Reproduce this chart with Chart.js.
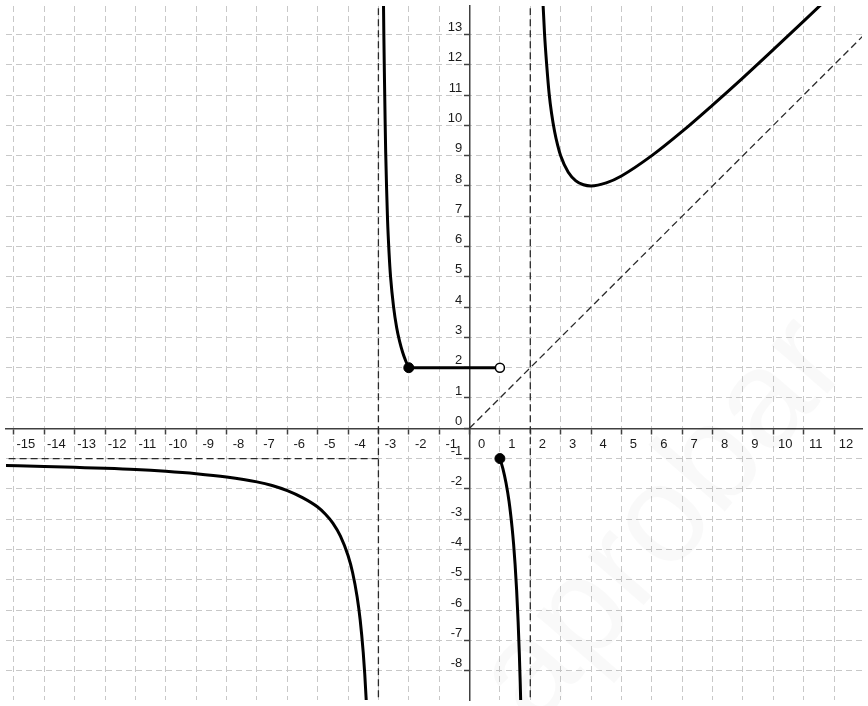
<!DOCTYPE html>
<html>
<head>
<meta charset="utf-8">
<script src="https://cdn.jsdelivr.net/npm/chart.js@4.4.1/dist/chart.umd.min.js"></script>
<style>
  html, body { margin: 0; padding: 0; background: #ffffff; }
  #wrap { width: 868px; height: 706px; position: relative; }
</style>
</head>
<body>
<div id="wrap"><canvas id="c"></canvas></div>
<script>
// ---- visible window of the plot ----
const xRange = [-15.26, 12.92];
const yRange = [-8.97, 13.94];

// ---- tick labels ----
const xTickValues = [-15,-14,-13,-12,-11,-10,-9,-8,-7,-6,-5,-4,-3,-2,-1,0,1,2,3,4,5,6,7,8,9,10,11,12];
const yTickValues = [-8,-7,-6,-5,-4,-3,-2,-1,0,1,2,3,4,5,6,7,8,9,10,11,12,13];

// ---- curve pieces ----
// branch for x < -3
const branch1X = [-15.3,-14,-13,-12,-11,-10,-9,-8,-7,-6.5,-6,-5.5,-5,-4.75,-4.5,-4.25,-4.0,-3.85,-3.7,-3.6,-3.5,-3.45,-3.4,-3.35];
const branch1Y = [-1.23,-1.26,-1.29,-1.32,-1.36,-1.42,-1.50,-1.61,-1.77,-1.89,-2.06,-2.29,-2.60,-2.83,-3.13,-3.56,-4.2,-4.76,-5.57,-6.33,-7.4,-8.11,-9.0,-10.14];
// branch for -3 < x <= -2
const branch2X = [-2.835,-2.82,-2.80,-2.78,-2.76,-2.73,-2.70,-2.65,-2.60,-2.50,-2.40,-2.30,-2.20,-2.10,-2.00];
const branch2Y = [14.2,12.9,11.5,10.2,9.1,7.9,6.9,5.8,5.0,4.0,3.33,2.86,2.5,2.22,2.0];
// horizontal piece y = 2 on [-2, 1)
const segmentX = [-2, 1];
const segmentY = [2, 2];
// branch for 1 <= x < 2
const branch3X = [1.0,1.1,1.2,1.3,1.4,1.45,1.5,1.55,1.6,1.64,1.67,1.70,1.72];
const branch3Y = [-1,-1.34,-1.8,-2.41,-3.27,-3.82,-4.5,-5.34,-6.4,-7.47,-8.45,-9.63,-10.57];
// branch for x > 2
const branch4X = [2.38,2.42,2.47,2.54,2.62,2.70,2.80,2.90,3.0,3.25,3.5,3.75,4.0,4.5,5,6,7,8,9,10,11,12,13];
const branch4Y = [14.9,14.0,13.0,12.0,11.05,10.4,9.8,9.35,9.0,8.45,8.17,8.04,8.0,8.1,8.33,9.0,9.8,10.67,11.57,12.5,13.44,14.4,15.4];

// ---- asymptotes / guide lines ----
const verticalAsymptotes = [-3, 2];
const horizontalAsymptoteY = -1;      // drawn for x < -3
const horizontalAsymptoteEndX = -3;
const diagonalX = [0, 14];
const diagonalY = [0, 14];

// ---- end points ----
const filledX = [-2, 1];
const filledY = [2, -1];
const openX = [1];
const openY = [2];

// ---------------------------------------------------------------
const zip = (xs, ys) => xs.map((x, i) => ({ x: x, y: ys[i] }));
const FONT = '"Liberation Sans", Arial, sans-serif';
const curveStyle = {
  showLine: true, pointRadius: 0, borderColor: '#000000', borderWidth: 3,
  cubicInterpolationMode: 'monotone', fill: false
};
const dashStyle = {
  showLine: true, pointRadius: 0, borderColor: '#2a2a2a', borderWidth: 1.3,
  borderDash: [7, 4], tension: 0, fill: false
};

const datasets = [
  Object.assign({ data: zip(openX, openY), showLine: false, pointRadius: 4.5,
    pointBackgroundColor: '#ffffff', pointBorderColor: '#000000', pointBorderWidth: 1.5 }),
  Object.assign({ data: zip(filledX, filledY), showLine: false, pointRadius: 5,
    pointBackgroundColor: '#000000', pointBorderColor: '#000000', pointBorderWidth: 1 }),
  Object.assign({ data: zip(branch1X, branch1Y) }, curveStyle),
  Object.assign({ data: zip(branch2X, branch2Y) }, curveStyle),
  Object.assign({ data: zip(segmentX, segmentY) }, curveStyle, { cubicInterpolationMode: 'default', tension: 0 }),
  Object.assign({ data: zip(branch3X, branch3Y) }, curveStyle),
  Object.assign({ data: zip(branch4X, branch4Y) }, curveStyle),
];
verticalAsymptotes.forEach(v => {
  datasets.push(Object.assign({ data: [{ x: v, y: yRange[0] - 1 }, { x: v, y: yRange[1] + 1 }] }, dashStyle));
});
datasets.push(Object.assign({ data: [{ x: xRange[0] - 1, y: horizontalAsymptoteY }, { x: horizontalAsymptoteEndX, y: horizontalAsymptoteY }] }, dashStyle));
datasets.push(Object.assign({ data: zip(diagonalX, diagonalY) }, dashStyle));

function unpad(s) { s.paddingLeft = 0; s.paddingRight = 0; s.paddingTop = 0; s.paddingBottom = 0; }

const watermark = {
  id: 'watermark',
  beforeDatasetsDraw(chart) {
    const ctx = chart.ctx;
    ctx.save();
    ctx.translate(535, 730);
    ctx.rotate(-49 * Math.PI / 180);
    ctx.font = '140px ' + FONT;
    ctx.fillStyle = 'rgba(0,0,0,0.022)';
    ctx.textBaseline = 'alphabetic';
    ctx.fillText('aprobar', 0, 0);
    ctx.restore();
  }
};

const gridBase = {
  color: '#c8c8c8', lineWidth: 1, drawTicks: true, tickLength: 5,
  tickColor: '#404040', tickWidth: 1.5, tickBorderDash: []
};

new Chart(document.getElementById('c'), {
  type: 'scatter',
  data: { datasets: datasets },
  plugins: [watermark],
  options: {
    responsive: true,
    maintainAspectRatio: false,
    animation: false,
    events: [],
    layout: { padding: 0 },
    plugins: { legend: { display: false }, tooltip: { enabled: false } },
    scales: {
      x: {
        type: 'linear', min: xRange[0], max: xRange[1], position: { y: 0 },
        afterBuildTicks: s => { s.ticks = xTickValues.map(v => ({ value: v })); },
        afterFit: unpad,
        grid: gridBase,
        border: { display: true, color: '#404040', width: 1.5, dash: [6, 4] },
        ticks: { autoSkip: false, maxRotation: 0, minRotation: 0, labelOffset: 12, padding: 3,
          color: '#1a1a1a', font: { family: FONT, size: 13 }, callback: v => String(v) }
      },
      y: {
        type: 'linear', min: yRange[0], max: yRange[1], position: { x: 0 },
        afterBuildTicks: s => { s.ticks = yTickValues.map(v => ({ value: v })); },
        afterFit: unpad,
        grid: gridBase,
        border: { display: true, color: '#404040', width: 1.5, dash: [6, 4] },
        ticks: { autoSkip: false, labelOffset: -7, padding: 3,
          color: '#1a1a1a', font: { family: FONT, size: 13 }, callback: v => String(v) + '  ' }
      }
    }
  }
});
</script>
</body>
</html>
